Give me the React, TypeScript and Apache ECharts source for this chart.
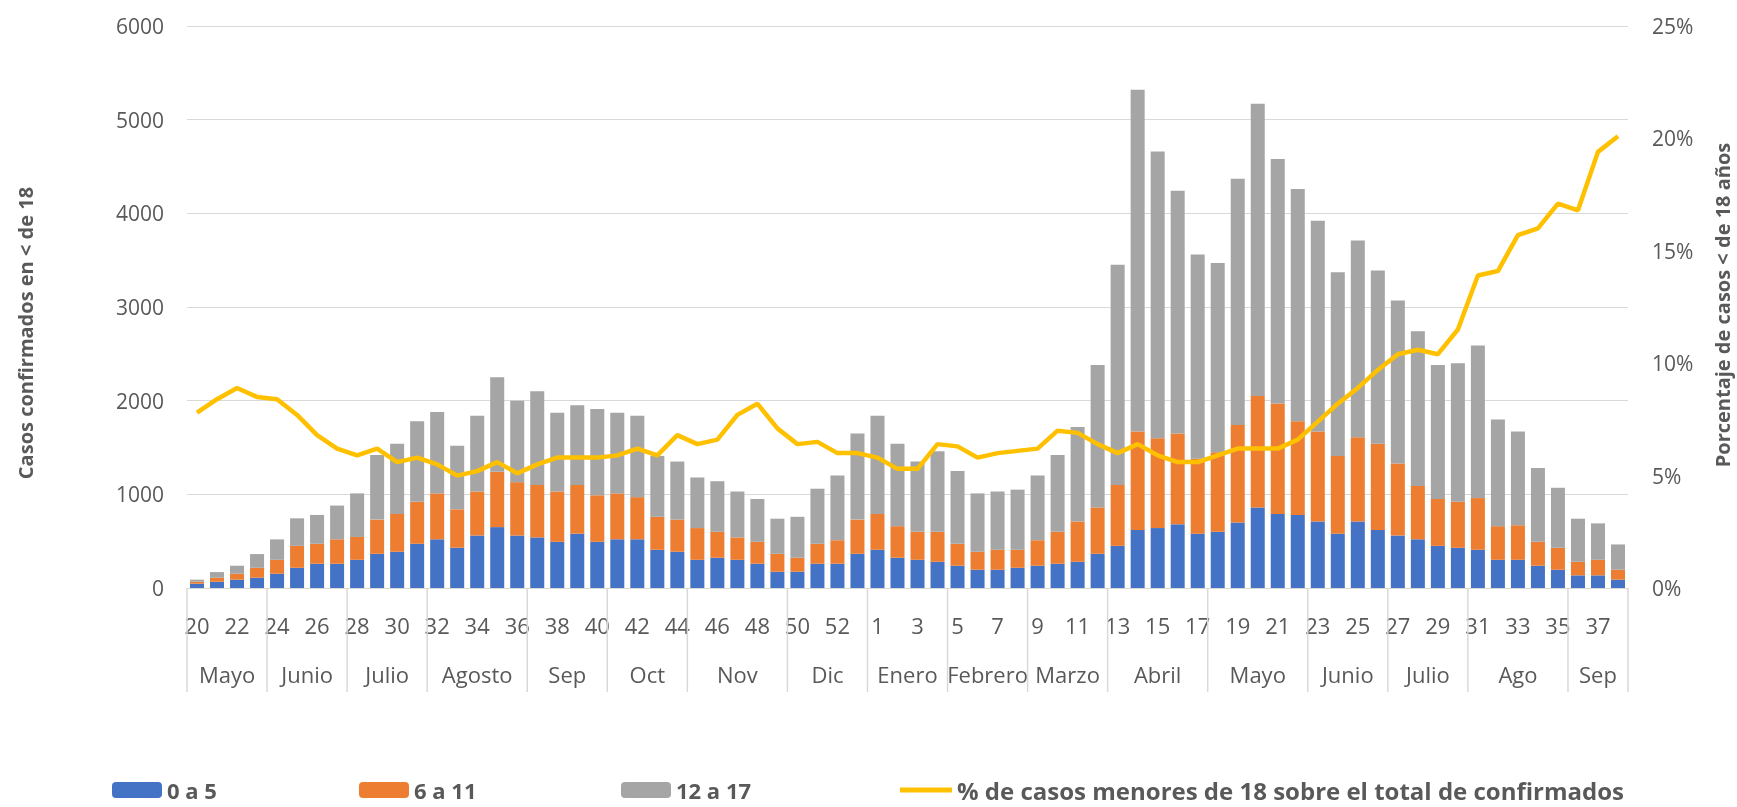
import React, { useEffect, useRef } from "react";
import * as echarts from "echarts";

const weekLabels = [
  "20","21","22","23","24","25","26","27","28","29","30","31","32","33","34","35","36","37","38","39","40",
  "41","42","43","44","45","46","47","48","49","50","51","52","53",
  "1","2","3","4","5","6","7","8","9","10","11","12","13","14","15","16","17","18","19","20",
  "21","22","23","24","25","26","27","28","29","30","31","32","33","34","35","36","37","38",
];

const monthNames = ["Mayo","Junio","Julio","Agosto","Sep","Oct","Nov","Dic","Enero","Febrero","Marzo","Abril","Mayo","Junio","Julio","Ago","Sep"];
const monthWeekCounts = [4,4,4,5,4,4,5,4,4,4,4,5,5,4,4,5,3];

const age0to5 = [
  46,67,89,110,152,216,259,259,301,365,387,472,520,430,560,650,560,540,493,580,493,520,520,408,387,301,323,301,259,174,174,259,259,365,
  408,323,301,280,238,195,195,216,238,259,280,365,450,620,640,680,580,600,700,860,790,780,710,580,710,620,560,520,450,429,408,301,301,238,195,135,135,89,
];
const age6to11 = [
  21,43,63,106,149,234,213,261,244,365,403,448,490,410,470,590,570,560,537,520,497,490,450,352,343,339,277,239,234,191,149,213,251,365,
  382,337,299,320,234,192,213,192,272,341,430,495,650,1050,960,970,800,850,1040,1190,1180,1000,960,830,900,920,770,570,500,491,552,359,369,255,234,145,166,106,
];
const age12to17 = [
  22,60,86,146,218,294,308,360,465,690,750,860,870,680,810,1010,870,1000,840,850,920,860,870,650,620,540,540,490,457,375,437,588,690,920,
  1050,880,750,860,778,623,622,642,690,820,1010,1520,2350,3650,3060,2590,2180,2020,2630,3120,2610,2480,2250,1960,2100,1850,1740,1650,1430,1480,1630,1140,1000,787,641,460,389,270,
];
const pctUnder18 = [
  7.8,8.4,8.9,8.5,8.4,7.7,6.8,6.2,5.9,6.2,5.6,5.8,5.5,5.0,5.2,5.6,5.1,5.5,5.8,5.8,5.8,5.9,6.2,5.9,6.8,6.4,6.6,7.7,8.2,7.1,6.4,6.5,6.0,6.0,
  5.8,5.3,5.3,6.4,6.3,5.8,6.0,6.1,6.2,7.0,6.9,6.4,6.0,6.4,5.9,5.6,5.6,5.9,6.2,6.2,6.2,6.6,7.4,8.2,8.9,9.7,10.4,10.6,10.4,11.5,13.9,14.1,15.7,16.0,17.1,16.8,19.4,20.1,
];

const seriesNames = ["0 a 5", "6 a 11", "12 a 17", "% de casos menores de 18 sobre el total de confirmados"];
const leftTitle = "Casos confirmados en < de 18";
const rightTitle = "Porcentaje de casos < de 18 años";

const FONT = "'Open Sans', 'Noto Sans', sans-serif";
const LABEL = "#595959";
const GRID = "#D9D9D9";

export default function App() {
  const ref = useRef<HTMLDivElement>(null);
  useEffect(() => {
    if (!ref.current) return;
    const chart = echarts.init(ref.current, undefined, { renderer: "svg" });

    const starts: number[] = [];
    let acc = 0;
    monthWeekCounts.forEach((c) => { starts.push(acc); acc += c; });
    const monthData = monthWeekCounts.map((c, i) => [starts[i], starts[i] + c]);

    const legendCommon = {
      top: 778,
      itemHeight: 16,
      padding: 0,
      textStyle: { color: LABEL, fontSize: 22, lineHeight: 24, fontWeight: "bold", fontFamily: FONT },
      selectedMode: false,
    };

    chart.setOption({
      animation: false,
      textStyle: { fontFamily: FONT },
      grid: { left: 187, right: 109, top: 26, bottom: 219, containLabel: false },
      legend: [
        { ...legendCommon, left: 112, itemWidth: 50, data: [seriesNames[0]] },
        { ...legendCommon, left: 359, itemWidth: 50, data: [seriesNames[1]] },
        { ...legendCommon, left: 621, itemWidth: 50, data: [seriesNames[2]] },
        {
          ...legendCommon,
          top: 776,
          left: 900,
          itemWidth: 52,
          itemHeight: 5,
          textStyle: { ...legendCommon.textStyle, fontSize: 24, lineHeight: 28 },
          data: [{ name: seriesNames[3], icon: "rect" }],
        },
      ],
      xAxis: [
        {
          type: "category",
          data: weekLabels,
          axisLine: { show: true, lineStyle: { color: GRID, width: 1 } },
          axisTick: { show: false },
          axisLabel: { interval: 1, color: LABEL, fontSize: 22, margin: 26, fontFamily: FONT },
        },
        { type: "value", min: 0, max: weekLabels.length, show: false },
      ],
      yAxis: [
        {
          type: "value",
          min: 0,
          max: 6000,
          interval: 1000,
          axisLine: { show: false },
          axisTick: { show: false },
          axisLabel: { color: LABEL, fontSize: 21, margin: 23, fontFamily: FONT, formatter: (v: number) => String(v) },
          splitLine: { lineStyle: { color: GRID, width: 1 } },
        },
        {
          type: "value",
          min: 0,
          max: 25,
          interval: 5,
          position: "right",
          axisLine: { show: false },
          axisTick: { show: false },
          axisLabel: { color: LABEL, fontSize: 21, margin: 24, formatter: "{value}%", fontFamily: FONT },
          splitLine: { show: false },
        },
      ],
      graphic: [
        {
          type: "text",
          x: 25,
          y: 333,
          rotation: Math.PI / 2,
          style: { text: leftTitle, fill: LABEL, font: `bold 20px ${FONT}`, align: "center", verticalAlign: "middle" },
        },
        {
          type: "text",
          x: 1722,
          y: 305,
          rotation: Math.PI / 2,
          style: { text: rightTitle, fill: LABEL, font: `bold 20px ${FONT}`, align: "center", verticalAlign: "middle" },
        },
      ],
      series: [
        { name: seriesNames[0], type: "bar", stack: "age", data: age0to5, barCategoryGap: "30%", itemStyle: { color: "#4472C4" } },
        { name: seriesNames[1], type: "bar", stack: "age", data: age6to11, barCategoryGap: "30%", itemStyle: { color: "#ED7D31" } },
        { name: seriesNames[2], type: "bar", stack: "age", data: age12to17, barCategoryGap: "30%", itemStyle: { color: "#A5A5A5" } },
        {
          name: seriesNames[3],
          type: "line",
          yAxisIndex: 1,
          data: pctUnder18,
          symbol: "none",
          showSymbol: false,
          lineStyle: { color: "#FFC000", width: 4.5 },
          itemStyle: { color: "#FFC000" },
          z: 5,
        },
        {
          type: "custom",
          xAxisIndex: 1,
          yAxisIndex: 0,
          silent: true,
          clip: false,
          data: monthData,
          renderItem: (params: any, api: any) => {
            const s = api.value(0);
            const e = api.value(1);
            const p0 = api.coord([s, 0]);
            const p1 = api.coord([e, 0]);
            const children: any[] = [
              { type: "line", shape: { x1: p0[0], y1: p0[1], x2: p0[0], y2: p0[1] + 104 }, style: { stroke: GRID, lineWidth: 1.5 } },
              {
                type: "text",
                x: (p0[0] + p1[0]) / 2,
                y: p0[1] + 86,
                style: { text: monthNames[params.dataIndex], fill: LABEL, font: `22px ${FONT}`, align: "center", verticalAlign: "middle" },
              },
            ];
            if (params.dataIndex === monthNames.length - 1) {
              children.push({ type: "line", shape: { x1: p1[0], y1: p1[1], x2: p1[0], y2: p1[1] + 104 }, style: { stroke: GRID, lineWidth: 1.5 } });
            }
            return { type: "group", children };
          },
        },
      ],
    });
    return () => chart.dispose();
  }, []);
  return <div ref={ref} style={{ position: "fixed", left: 0, top: 0, width: 1737, height: 807 }} />;
}
